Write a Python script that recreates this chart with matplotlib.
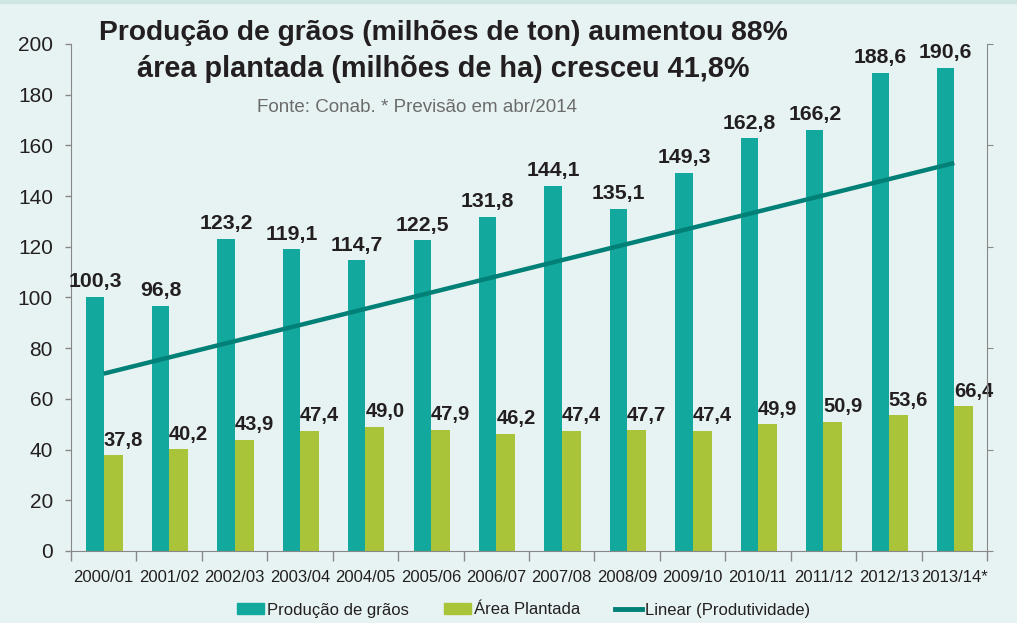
import numpy as np
import matplotlib
matplotlib.use('Agg')
import matplotlib.pyplot as plt
from matplotlib.patches import Patch, Rectangle
from matplotlib.lines import Line2D

# Data
safras = ['2000/01', '2001/02', '2002/03', '2003/04', '2004/05', '2005/06', '2006/07',
          '2007/08', '2008/09', '2009/10', '2010/11', '2011/12', '2012/13', '2013/14*']
producao = [100.3, 96.8, 123.2, 119.1, 114.7, 122.5, 131.8, 144.1, 135.1, 149.3, 162.8, 166.2, 188.6, 190.6]
area = [37.8, 40.2, 43.9, 47.4, 49.0, 47.9, 46.2, 47.4, 47.7, 47.4, 49.9, 50.9, 53.6, 57.0]  # bar heights
area_rotulos = ['37,8', '40,2', '43,9', '47,4', '49,0', '47,9', '46,2', '47,4', '47,7', '47,4', '49,9', '50,9', '53,6', '66,4']

TEAL = '#13a89e'
LIME = '#aac43a'
TREND = '#008076'
BG = '#e7f3f3'
TXT = '#231f20'

plt.rcParams['font.family'] = ['Liberation Sans', 'DejaVu Sans']

fig = plt.figure(figsize=(10.17, 6.23), dpi=100, facecolor=BG)
fig.patches.append(Rectangle((0, 1 - 3 / 623), 1, 3 / 623, transform=fig.transFigure,
                             color='#cfe6e3', zorder=0))
ax = fig.add_axes([0.0698, 0.1156, 0.9007, 0.8138])
ax.set_facecolor('none')

x = np.arange(len(safras))
ax.bar(x - 0.265, producao, width=0.265, align='edge', color=TEAL, zorder=2)
ax.bar(x, area, width=0.29, align='edge', color=LIME, zorder=2)

# value labels
for i in range(len(safras)):
    ax.annotate(f'{producao[i]:.1f}'.replace('.', ','), (x[i] - 0.1325, producao[i]),
                xytext=(0, 4), textcoords='offset points', ha='center', va='bottom',
                fontsize=15.3, fontweight='bold', color=TXT, zorder=5)
    ax.annotate(area_rotulos[i], (x[i], area[i]), xytext=(0, 4), textcoords='offset points',
                ha='left', va='bottom', fontsize=14.5, fontweight='bold', color=TXT, zorder=5)

ax.set_xlim(-0.5, len(safras) - 0.5)
ax.set_ylim(0, 200)
ax.set_yticks(range(0, 201, 20))
ax.tick_params(axis='y', labelsize=15, colors='#888888', labelcolor=TXT, length=4, width=1, pad=9)
ax.set_xticks(x)
ax.set_xticklabels(safras, fontsize=12, color=TXT)
ax.set_xticks(np.arange(-0.5, len(safras)), minor=True)
ax.tick_params(axis='x', which='major', length=0, pad=14)
ax.tick_params(axis='x', which='minor', length=7, width=1, colors='#888888')
for s in ['top', 'right']:
    ax.spines[s].set_visible(False)
for s in ['left', 'bottom']:
    ax.spines[s].set_color('#888888')

# productivity (t/ha) linear trend on secondary axis
produtividade = np.array(producao) / np.array(area)
coef = np.polyfit(x, produtividade, 1)
ax2 = ax.twinx()
ax2.plot(x, np.polyval(coef, x), color=TREND, lw=3.2, solid_capstyle='butt', zorder=4)
ax2.set_ylim(1.53, 3.98)
ax2.set_yticks(np.linspace(1.53, 3.98, 6))
ax2.set_yticklabels([])
ax2.tick_params(axis='y', length=4, colors='#888888')
for s in ['top', 'left', 'bottom']:
    ax2.spines[s].set_visible(False)
ax2.spines['right'].set_color('#888888')

# titles
fig.text(0.4356, 1 - 39.5 / 623, 'Produção de grãos (milhões de ton) aumentou 88%',
         ha='center', va='baseline', fontsize=20.3, fontweight='bold', color=TXT)
fig.text(0.4356, 1 - 77 / 623, 'área plantada (milhões de ha) cresceu 41,8%',
         ha='center', va='baseline', fontsize=20.8, fontweight='bold', color=TXT)
fig.text(0.41, 1 - 112 / 623, 'Fonte: Conab. * Previsão em abr/2014',
         ha='center', va='baseline', fontsize=13.5, color='#6b6b6b')

handles = [Patch(color=TEAL), Patch(color=LIME), Line2D([], [], color=TREND, lw=3.5)]
fig.legend(handles, ['Produção de grãos', 'Área Plantada', 'Linear (Produtividade)'],
           loc='center', bbox_to_anchor=(0.515, 1 - 610 / 623), ncol=3, frameon=False,
           fontsize=12, handlelength=1.6, handleheight=0.6, handletextpad=0.2,
           columnspacing=2.1, labelcolor=TXT)

fig.savefig('out.png', dpi=100, facecolor=BG)
